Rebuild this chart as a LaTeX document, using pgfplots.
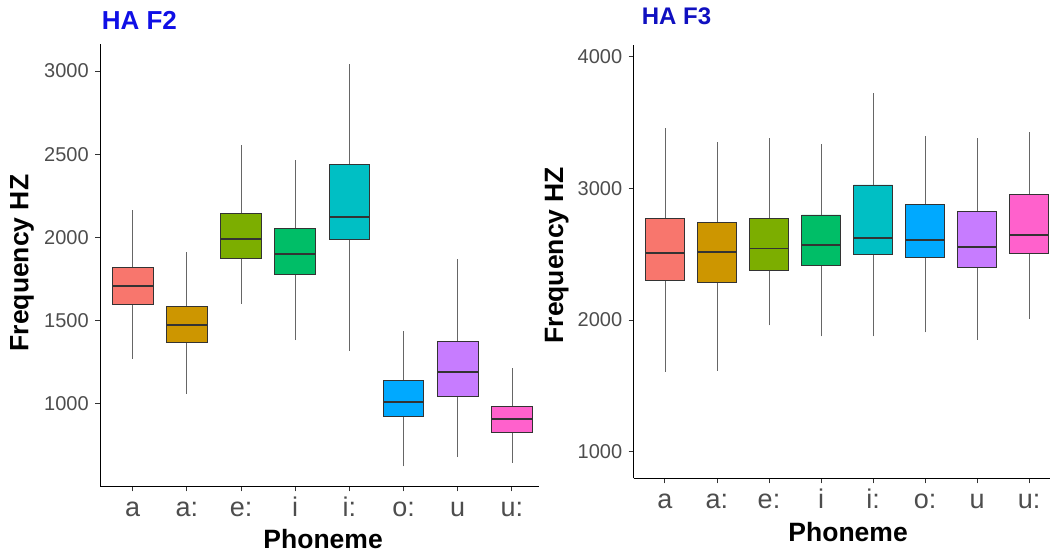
\documentclass[border=0pt]{standalone}
\usepackage{fontspec}
\setmainfont{Liberation Sans}
\usepackage{pgfplots}
\pgfplotsset{compat=1.18}
\definecolor{c1}{HTML}{F8766D}
\definecolor{c2}{HTML}{CD9600}
\definecolor{c3}{HTML}{7CAE00}
\definecolor{c4}{HTML}{00BE67}
\definecolor{c5}{HTML}{00BFC4}
\definecolor{c6}{HTML}{00A9FF}
\definecolor{c7}{HTML}{C77CFF}
\definecolor{c8}{HTML}{FF61CC}
\definecolor{tickgray}{HTML}{4D4D4D}
\definecolor{boxline}{HTML}{333333}
\definecolor{titleblue}{HTML}{0F0FE6}
\definecolor{titleblue2}{HTML}{1010C0}
\pgfplotsset{
  ggbox/.style={
    scale only axis,
    axis x line*=bottom, axis y line*=left,
    axis line style={-, line width=1.2pt, black},
    tick align=outside, major tick length=5pt,
    every tick/.style={line width=0.9pt, boxline},
    xtick={1,2,3,4,5,6,7,8},
    xticklabels={a,a:,e:,i,i:,o:,u,u:},
    /pgf/number format/assume math mode=true,
    /pgf/number format/1000 sep={},
    yticklabel style={font=\fontsize{20}{20}\selectfont, text=tickgray, xshift=-3pt},
    xticklabel style={font=\fontsize{27}{27}\selectfont, text=tickgray, yshift=-14pt, text height=0.72em, text depth=0pt},
    label style={font=\fontsize{26.5}{26.5}\selectfont\bfseries, text=black},
  },
  whisk/.style={draw=black!60, line width=0.8pt, mark=none},
  bx/.style={draw=boxline, line width=0.9pt, mark=none, line join=miter, line cap=rect},
  med/.style={draw=boxline, line width=1.8pt, mark=none},
}
\begin{document}
\begin{tikzpicture}
\useasboundingbox (0pt,0pt) rectangle (1050pt,554pt);
% ---------- Left: HA F2 ----------
\begin{axis}[ggbox,
  at={(100.2pt,67.5pt)}, anchor=south west,
  width=438.8pt, height=442.5pt,
  xmin=0.4, xmax=8.5, ymin=501, ymax=3163,
  ytick={1000,1500,2000,2500,3000},
  xlabel={Phoneme}, ylabel={Frequency HZ},
  xlabel style={at={(axis description cs:0.508,-0.118)}, anchor=center},
  ylabel style={at={(axis description cs:-0.178,0.505)}, anchor=center},
]
% a
\addplot[whisk] coordinates {(1,1271) (1,2163)};
\addplot[bx, fill=c1] coordinates {(0.625,1596) (1.375,1596) (1.375,1819) (0.625,1819) (0.625,1596)};
\addplot[med] coordinates {(0.625,1707) (1.375,1707)};
% a:
\addplot[whisk] coordinates {(2,1060) (2,1910)};
\addplot[bx, fill=c2] coordinates {(1.625,1369) (2.375,1369) (2.375,1584) (1.625,1584) (1.625,1369)};
\addplot[med] coordinates {(1.625,1472) (2.375,1472)};
% e:
\addplot[whisk] coordinates {(3,1600) (3,2558)};
\addplot[bx, fill=c3] coordinates {(2.625,1873) (3.375,1873) (3.375,2146) (2.625,2146) (2.625,1873)};
\addplot[med] coordinates {(2.625,1988) (3.375,1988)};
% i
\addplot[whisk] coordinates {(4,1381) (4,2464)};
\addplot[bx, fill=c4] coordinates {(3.625,1779) (4.375,1779) (4.375,2056) (3.625,2056) (3.625,1779)};
\addplot[med] coordinates {(3.625,1899) (4.375,1899)};
% i:
\addplot[whisk] coordinates {(5,1317) (5,3042)};
\addplot[bx, fill=c5] coordinates {(4.625,1990) (5.375,1990) (5.375,2440) (4.625,2440) (4.625,1990)};
\addplot[med] coordinates {(4.625,2120) (5.375,2120)};
% o:
\addplot[whisk] coordinates {(6,622) (6,1436)};
\addplot[bx, fill=c6] coordinates {(5.625,924) (6.375,924) (6.375,1137) (5.625,1137) (5.625,924)};
\addplot[med] coordinates {(5.625,1010) (6.375,1010)};
% u
\addplot[whisk] coordinates {(7,677) (7,1869)};
\addplot[bx, fill=c7] coordinates {(6.625,1042) (7.375,1042) (7.375,1372) (6.625,1372) (6.625,1042)};
\addplot[med] coordinates {(6.625,1189) (7.375,1189)};
% u:
\addplot[whisk] coordinates {(8,645) (8,1215)};
\addplot[bx, fill=c8] coordinates {(7.625,829) (8.375,829) (8.375,984) (7.625,984) (7.625,829)};
\addplot[med] coordinates {(7.625,905) (8.375,905)};
\end{axis}
\node[anchor=base west, font=\fontsize{26}{26}\selectfont\bfseries, text=titleblue, inner sep=0pt] at (101.6pt,524.7pt) {HA F2};
% ---------- Right: HA F3 ----------
\begin{axis}[ggbox,
  at={(633.7pt,75.7pt)}, anchor=south west,
  width=416.3pt, height=433.3pt,
  xmin=0.4, xmax=8.4, ymin=798, ymax=4089,
  ytick={1000,2000,3000,4000},
  xlabel={Phoneme}, ylabel={Frequency HZ},
  xlabel style={at={(axis description cs:0.515,-0.124)}, anchor=center},
  ylabel style={at={(axis description cs:-0.185,0.515)}, anchor=center},
]
% a
\addplot[whisk] coordinates {(1,1608) (1,3459)};
\addplot[bx, fill=c1] coordinates {(0.625,2297) (1.375,2297) (1.375,2775) (0.625,2775) (0.625,2297)};
\addplot[med] coordinates {(0.625,2510) (1.375,2510)};
% a:
\addplot[whisk] coordinates {(2,1616) (2,3349)};
\addplot[bx, fill=c2] coordinates {(1.625,2284) (2.375,2284) (2.375,2740) (1.625,2740) (1.625,2284)};
\addplot[med] coordinates {(1.625,2517) (2.375,2517)};
% e:
\addplot[whisk] coordinates {(3,1960) (3,3380)};
\addplot[bx, fill=c3] coordinates {(2.625,2373) (3.375,2373) (3.375,2775) (2.625,2775) (2.625,2373)};
\addplot[med] coordinates {(2.625,2544) (3.375,2544)};
% i
\addplot[whisk] coordinates {(4,1876) (4,3337)};
\addplot[bx, fill=c4] coordinates {(3.625,2415) (4.375,2415) (4.375,2798) (3.625,2798) (3.625,2415)};
\addplot[med] coordinates {(3.625,2567) (4.375,2567)};
% i:
\addplot[whisk] coordinates {(5,1876) (5,3724)};
\addplot[bx, fill=c5] coordinates {(4.625,2497) (5.375,2497) (5.375,3026) (4.625,3026) (4.625,2497)};
\addplot[med] coordinates {(4.625,2626) (5.375,2626)};
% o:
\addplot[whisk] coordinates {(6,1907) (6,3400)};
\addplot[bx, fill=c6] coordinates {(5.625,2476) (6.375,2476) (6.375,2879) (5.625,2879) (5.625,2476)};
\addplot[med] coordinates {(5.625,2610) (6.375,2610)};
% u
\addplot[whisk] coordinates {(7,1849) (7,3380)};
\addplot[bx, fill=c7] coordinates {(6.625,2403) (7.375,2403) (7.375,2828) (6.625,2828) (6.625,2403)};
\addplot[med] coordinates {(6.625,2552) (7.375,2552)};
% u:
\addplot[whisk] coordinates {(8,2011) (8,3428)};
\addplot[bx, fill=c8] coordinates {(7.625,2509) (8.375,2509) (8.375,2957) (7.625,2957) (7.625,2509)};
\addplot[med] coordinates {(7.625,2648) (8.375,2648)};
\end{axis}
\node[anchor=base west, font=\fontsize{24}{24}\selectfont\bfseries, text=titleblue2, inner sep=0pt] at (641.7pt,529pt) {HA F3};
\end{tikzpicture}
\end{document}
